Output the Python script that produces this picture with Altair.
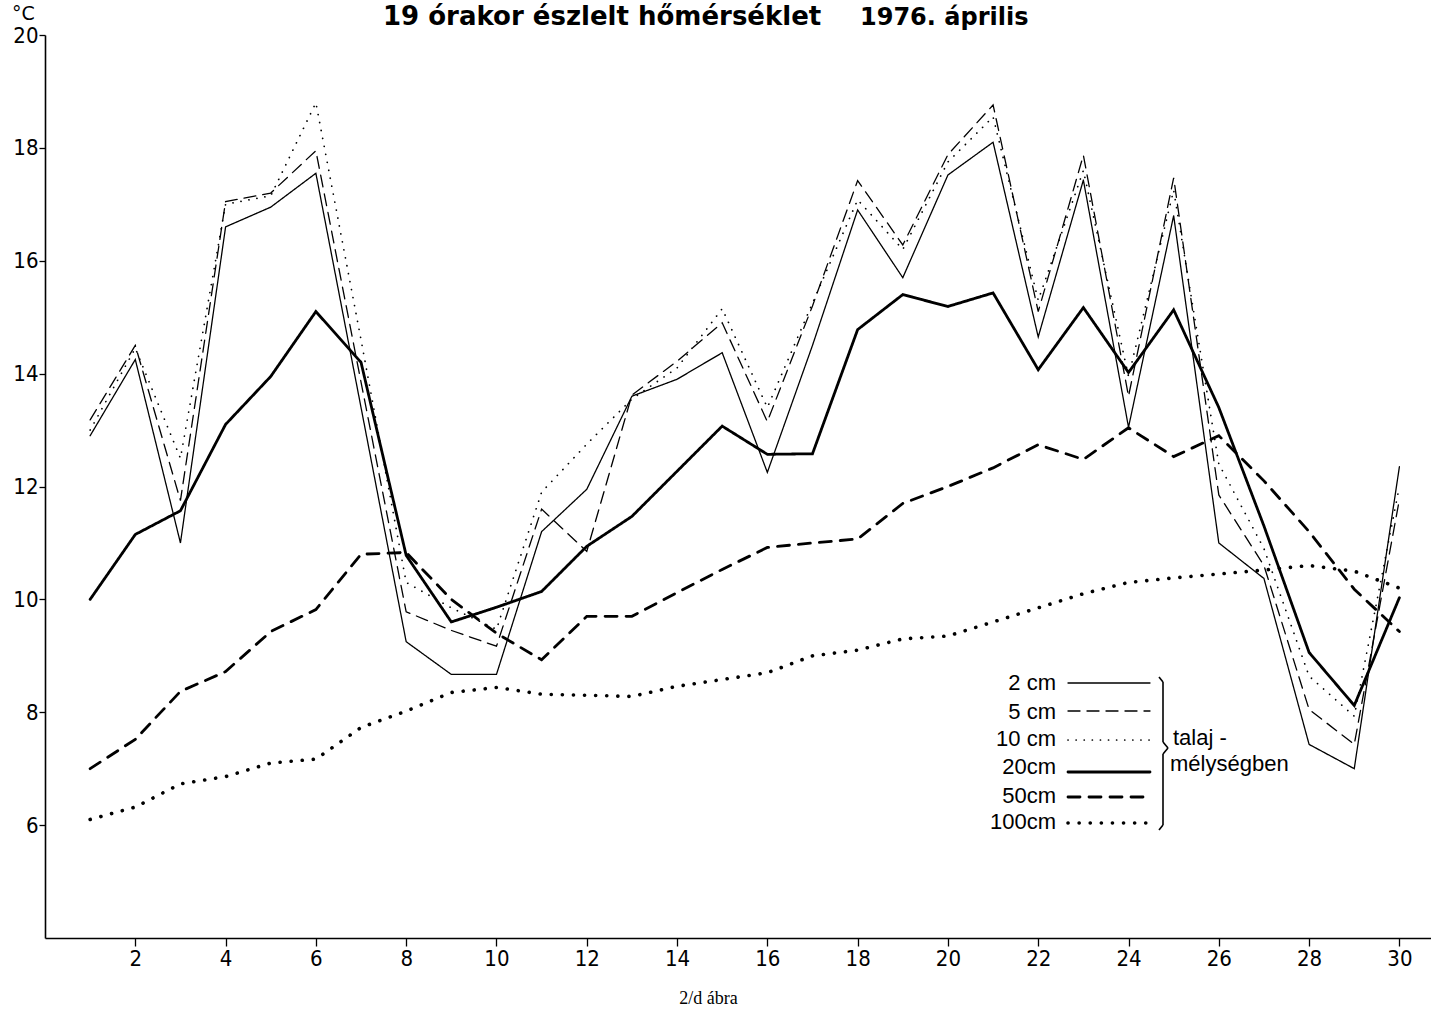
import altair as alt
import pandas as pd

days = list(range(1, 31))

series_names = ["2 cm", "5 cm", "10 cm", "20cm", "50cm", "100cm"]

t2 = [12.9, 14.25, 11.0, 16.6, 16.95, 17.55, 13.4, 9.25, 8.67, 8.67, 11.2, 11.95, 13.6, 13.9, 14.37,
      12.25, 14.5, 16.9, 15.7, 17.52, 18.1, 14.65, 17.43, 13.05, 16.8, 11.0, 10.37, 7.43, 7.0, 12.35]
t5 = [13.18, 14.5, 11.75, 17.05, 17.2, 17.95, 13.85, 9.78, 9.45, 9.17, 11.6, 10.85, 13.62, 14.22, 14.9,
      13.15, 15.2, 17.42, 16.28, 17.88, 18.76, 15.1, 17.87, 13.6, 17.47, 11.85, 10.6, 8.05, 7.43, 11.77]
t10 = [13.0, 14.45, 12.5, 17.0, 17.15, 18.8, 14.6, 10.3, 9.85, 9.47, 11.9, 12.75, 13.55, 14.1, 15.15,
       13.4, 15.25, 17.08, 16.2, 17.75, 18.55, 15.3, 17.6, 13.95, 17.25, 12.4, 10.9, 8.64, 7.93, 12.0]
t20 = [10.0, 11.15, 11.57, 13.1, 13.95, 15.1, 14.2, 10.78, 9.6, 9.86, 10.14, 10.94, 11.47, 12.27, 13.07,
       12.57, 12.58, 14.78, 15.4, 15.19, 15.43, 14.07, 15.17, 14.02, 15.13, 13.4, 11.3, 9.06, 8.12, 10.03]
t50 = [7.0, 7.52, 8.37, 8.72, 9.43, 9.82, 10.8, 10.83, 10.0, 9.4, 8.93, 9.7, 9.7, 10.12, 10.53,
       10.92, 11.0, 11.07, 11.7, 12.0, 12.33, 12.74, 12.48, 13.04, 12.53, 12.9, 12.1, 11.2, 10.18, 9.43]
t100 = [6.1, 6.32, 6.73, 6.86, 7.1, 7.17, 7.73, 8.02, 8.35, 8.44, 8.32, 8.3, 8.28, 8.46, 8.58,
        8.7, 9.0, 9.1, 9.3, 9.35, 9.6, 9.85, 10.1, 10.3, 10.38, 10.45, 10.52, 10.6, 10.5, 10.2]

x_ticks = list(range(2, 31, 2))
y_ticks = list(range(6, 21, 2))

title_parts = ["19 órakor észlelt hőmérséklet", "1976. április"]
x_title = "2/d ábra"
y_title = "°C"
brace_text = ["talaj -", "mélységben"]

all_values = [t2, t5, t10, t20, t50, t100]
rows = []
for name, vals in zip(series_names, all_values):
    for d, v in zip(days, vals):
        rows.append({"day": d, "temp": v, "series": name})
df = pd.DataFrame(rows)

dash_range = [[1, 0], [12, 7], [0.1, 8], [1, 0], [12, 9], [0.1, 11]]
width_range = [1.3, 1.3, 1.7, 2.8, 2.8, 3.6]

W, H = 1386, 903
OX, OY = 45, 35  # plot origin in page

tick_font = "Liberation Sans Narrow, DejaVu Sans Condensed, sans-serif"

x_enc = alt.X("day:Q",
              scale=alt.Scale(domain=[0, 30.7], nice=False, zero=False),
              axis=alt.Axis(values=x_ticks, title=x_title, grid=False,
                            domainColor="black", domainWidth=1.6, tickColor="black", tickWidth=1.3,
                            tickSize=8, labelPadding=2, labelFont=tick_font, labelFontSize=22,
                            labelColor="black", titleFont="Liberation Serif", titleFontSize=18,
                            titleFontWeight="normal", titleColor="black",
                            titleX=663, titleY=60, titleBaseline="middle", titleAlign="center"))
y_enc = alt.Y("temp:Q",
              scale=alt.Scale(domain=[4, 20], nice=False, zero=False),
              axis=alt.Axis(values=y_ticks, title=y_title, grid=False,
                            domainColor="black", domainWidth=1.6, tickColor="black", tickWidth=1.3,
                            tickSize=6, labelPadding=1, labelFont=tick_font, labelFontSize=22,
                            labelColor="black", titleFont="DejaVu Sans", titleFontSize=19,
                            titleFontWeight="normal", titleColor="black", titleAngle=0,
                            titleX=-22, titleY=-22, titleBaseline="middle", titleAlign="center"))

layers = []
for i, name in enumerate(series_names):
    layers.append(
        alt.Chart(df[df["series"] == name]).mark_line(
            color="black", strokeCap="round", strokeJoin="miter",
            strokeDash=dash_range[i], strokeWidth=width_range[i]
        ).encode(x=x_enc, y=y_enc)
    )

one = pd.DataFrame({"a": [0]})

# Title
title_x = [383, 860]
title_size = [26, 24]
for part, tx, fs in zip(title_parts, title_x, title_size):
    layers.append(alt.Chart(one).mark_text(text=part, font="DejaVu Sans", fontWeight="bold", fontSize=fs,
                                           align="left", baseline="alphabetic", color="black")
                  .encode(x=alt.value(tx - OX), y=alt.value(25 - OY)))

# Legend
text_y = [683, 712, 739, 767, 796, 822]
line_y = [683, 711, 740, 772, 797, 823]
for i, name in enumerate(series_names):
    layers.append(alt.Chart(one).mark_text(text=name, font="Liberation Sans", fontSize=22,
                                           align="right", baseline="middle", color="black")
                  .encode(x=alt.value(1056 - OX), y=alt.value(text_y[i] - OY)))
    layers.append(alt.Chart(one).mark_rule(color="black", strokeCap="round",
                                           strokeDash=dash_range[i], strokeWidth=width_range[i])
                  .encode(x=alt.value(1068 - OX), x2=alt.value(1150 - OX), y=alt.value(line_y[i] - OY)))

# Brace
bx = 1163 - OX
segs = [
    (bx - 4, 677, bx, 682),
    (bx, 682, bx, 742),
    (bx, 742, bx + 5, 748),
    (bx + 5, 748, bx, 754),
    (bx, 754, bx, 825),
    (bx, 825, bx - 4, 830),
]
for (x1, y1, x2, y2) in segs:
    layers.append(alt.Chart(one).mark_rule(color="black", strokeWidth=1.6)
                  .encode(x=alt.value(x1), x2=alt.value(x2), y=alt.value(y1 - OY), y2=alt.value(y2 - OY)))

layers.append(alt.Chart(one).mark_text(text=brace_text[0], font="Liberation Sans", fontSize=22,
                                       align="left", baseline="middle", color="black")
              .encode(x=alt.value(1173 - OX), y=alt.value(738 - OY)))
layers.append(alt.Chart(one).mark_text(text=brace_text[1], font="Liberation Sans", fontSize=22,
                                       align="left", baseline="middle", color="black")
              .encode(x=alt.value(1170 - OX), y=alt.value(764 - OY)))

chart = alt.layer(*layers).properties(
    width=W, height=H,
    autosize=alt.AutoSizeParams(type="none"),
    padding={"left": OX, "top": OY, "right": 0, "bottom": 1011 - OY - H},
    background="white",
).configure_view(stroke=None)

chart.save("out.html", embed_options={"renderer": "svg", "actions": False})
